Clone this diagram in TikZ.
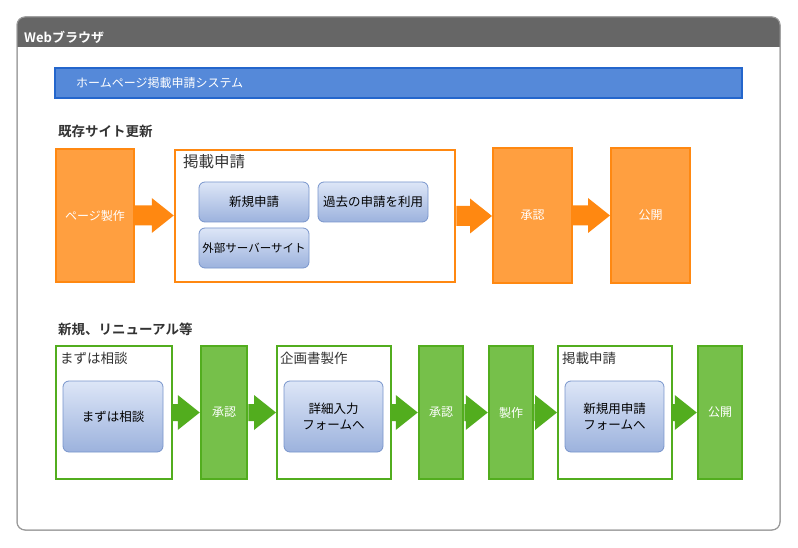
\documentclass[tikz,border=0pt]{standalone}
\usepackage{fontspec}
\setmainfont{Noto Sans CJK JP}[BoldFont=* Bold]
\usetikzlibrary{calc}
\definecolor{hdr}{HTML}{666666}
\definecolor{frame}{HTML}{9A9A9A}
\definecolor{bluefill}{HTML}{5589D9}
\definecolor{blueline}{HTML}{2466CC}
\definecolor{ofill}{HTML}{FF9F40}
\definecolor{oline}{HTML}{FF8811}
\definecolor{gfill}{HTML}{76C04A}
\definecolor{gline}{HTML}{52AD1E}
\definecolor{gtop}{HTML}{DDE6F7}
\definecolor{gbot}{HTML}{9CB2DD}
\definecolor{rline}{HTML}{7895CC}
\definecolor{ttl}{HTML}{333333}
\tikzset{
  obox/.style={draw=oline, fill=ofill, line width=2pt, text=white, font=\fontsize{12}{14}\selectfont},
  gbox/.style={draw=gline, fill=gfill, line width=2.5pt, text=white, font=\fontsize{12}{14}\selectfont},
  ogroup/.style={draw=oline, fill=white, line width=2.5pt},
  ggroup/.style={draw=gline, fill=white, line width=2pt},
  rbox/.style={draw=rline, rounded corners=6pt, top color=gtop, bottom color=gbot, line width=0.8pt, align=center, inner xsep=0pt, font=\fontsize{12.5}{16}\selectfont},
  gtitle/.style={anchor=west, text=ttl, inner sep=0pt},
  sect/.style={anchor=west, text=ttl, font=\bfseries\fontsize{13.5}{15}\selectfont, inner sep=0pt},
}
% fat arrow from node #1 to node #2, colour #3, half shaft #4
\newcommand{\fatarrow}[4]{%
  \fill[#3] let \p1=(#1.east), \p2=(#2.west) in
    (\x1,\y1+#4) -- (\x2-22pt,\y1+#4) -- (\x2-22pt,\y1+17.5pt) -- (\x2,\y1)
    -- (\x2-22pt,\y1-17.5pt) -- (\x2-22pt,\y1-#4) -- (\x1,\y1-#4) -- cycle;}
\begin{document}
\begin{tikzpicture}[x=1pt,y=-1pt]
\useasboundingbox (0,0) rectangle (798,548);
% window
\path[fill=white, draw=frame, line width=1pt, rounded corners=8pt] (17,17) rectangle (780,530);
\fill[hdr, rounded corners=8pt] (17,17) rectangle (780,47);
\fill[hdr] (17,35) rectangle (780,47);
\draw[frame, line width=1pt, rounded corners=8pt] (17,17) rectangle (780,530);
\node[anchor=west, text=white, font=\bfseries\fontsize{13}{15}\selectfont, inner sep=0pt] (web) at (24,37) {Webブラウザ};
% blue bar
\node[draw=blueline, fill=bluefill, line width=1.5pt, minimum width=687, minimum height=30, inner sep=0pt] (bar) at (398.5,83) {};
\node[anchor=west, text=white, font=\fontsize{12}{14}\selectfont, inner sep=0pt] (bartxt) at (76,83) {ホームページ掲載申請システム};
% section 1
\node[sect] (s1) at (58,131) {既存サイト更新};
\node[obox, minimum width=78, minimum height=133] (p1) at (95,215.5) {ページ製作};
\node[ogroup, minimum width=280, minimum height=132] (ap1) at (315,216) {};
\node[gtitle, font=\fontsize{15.5}{17}\selectfont] (ap1t) at (183,162) {掲載申請};
\node[rbox, minimum width=110, minimum height=40] (r1) at (254,202) {新規申請};
\node[rbox, minimum width=110, minimum height=40] (r2) at (373,202) {過去の申請を利用};
\node[rbox, minimum width=110, minimum height=40, font=\fontsize{11.5}{14}\selectfont] (r3) at (254,248) {外部サーバーサイト};
\node[obox, minimum width=79, minimum height=134] (sh1) at (532.5,215.5) {承認};
\node[obox, minimum width=79, minimum height=134] (ko1) at (650.5,215.5) {公開};
\fatarrow{p1}{ap1}{oline}{10pt}
\fatarrow{ap1}{sh1}{oline}{10pt}
\fatarrow{sh1}{ko1}{oline}{10pt}
% section 2
\node[sect] (s2) at (58,329) {新規、リニューアル等};
\node[ggroup, minimum width=116, minimum height=133] (g1) at (114,412.5) {};
\node[gtitle, font=\fontsize{13.5}{15}\selectfont] (g1t) at (60,358) {まずは相談};
\node[rbox, minimum width=100, minimum height=71] (q1) at (113,416.5) {まずは相談};
\node[gbox, minimum width=46, minimum height=133] (sh2) at (224,412.5) {承認};
\node[ggroup, minimum width=114, minimum height=133] (g2) at (334,412.5) {};
\node[gtitle, font=\fontsize{13.5}{15}\selectfont] (g2t) at (280,358) {企画書製作};
\node[rbox, minimum width=99, minimum height=71] (q2) at (333.5,416.5) {詳細入力\\フォームへ};
\node[gbox, minimum width=44, minimum height=133] (sh3) at (441,412.5) {承認};
\node[gbox, minimum width=44, minimum height=133] (se2) at (511,412.5) {製作};
\node[ggroup, minimum width=114, minimum height=133] (g3) at (615,412.5) {};
\node[gtitle, font=\fontsize{13.5}{15}\selectfont] (g3t) at (562,358) {掲載申請};
\node[rbox, minimum width=99, minimum height=71] (q3) at (614.5,416.5) {新規用申請\\フォームへ};
\node[gbox, minimum width=44, minimum height=133] (ko2) at (720,412.5) {公開};
\fatarrow{g1}{sh2}{gline}{8.5pt}
\fatarrow{sh2}{g2}{gline}{8.5pt}
\fatarrow{g2}{sh3}{gline}{8.5pt}
\fatarrow{sh3}{se2}{gline}{8.5pt}
\fatarrow{se2}{g3}{gline}{8.5pt}
\fatarrow{g3}{ko2}{gline}{8.5pt}
\end{tikzpicture}
\end{document}
